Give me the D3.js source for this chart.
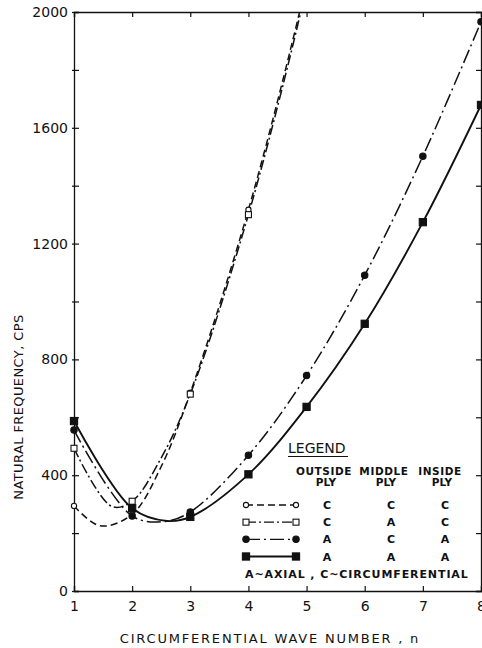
<!DOCTYPE html>
<html>
<head>
<meta charset="utf-8">
<script src="https://cdn.jsdelivr.net/npm/d3@7"></script>
<style>
  body { margin: 0; background: #fff; }
  text { font-family: "DejaVu Sans", sans-serif; fill: #111; }
</style>
</head>
<body>
<script>
'use strict';

// circumferential wave number n
const waveNumbers = [1, 2, 3, 4, 5, 6, 7, 8];

// marker values at integer n (cps)
const cccMarks = [[1, 294], [2, 265], [3, 685], [4, 1317]];
const cacMarks = [[1, 493], [2, 310], [3, 680], [4, 1300]];
const acaMarks = [[1, 556], [2, 259], [3, 273], [4, 469], [5, 744], [6, 1091], [7, 1502], [8, 1966]];
const aaaMarks = [[1, 587], [2, 286], [3, 256], [4, 403], [5, 636], [6, 923], [7, 1274], [8, 1679]];

// extra points (minima, exit at top)
const cccCurve = [[1, 294], [1.45, 225], [2, 265], [2.5, 430], [3, 685], [4, 1317], [4.88, 2000], [5, 2110]];
const cacCurve = [[1, 493], [1.65, 292], [2, 310], [2.5, 460], [3, 680], [4, 1300], [4.9, 2000], [5, 2100]];
const acaCurve = [[1, 556], [2, 259], [2.55, 240], [3, 273], [4, 469], [5, 744], [6, 1091], [7, 1502], [8, 1966]];
const aaaCurve = [[1, 587], [2, 286], [2.6, 242], [3, 256], [4, 403], [5, 636], [6, 923], [7, 1274], [8, 1679]];

const yTicks = [0, 200, 400, 600, 800, 1000, 1200, 1400, 1600, 1800, 2000];

const legendRows = [
  { outside: "C", middle: "C", inside: "C" },
  { outside: "C", middle: "A", inside: "C" },
  { outside: "A", middle: "C", inside: "A" },
  { outside: "A", middle: "A", inside: "A" }
];

(function() {

  let width = 482, height = 648;
  let mLeft = 74, mRight = 481, mTop = 12, mBottom = 591;

  let svg = d3.select("body").append("svg")
    .attr("width", width)
    .attr("height", height);

  let x = d3.scaleLinear().domain([1, 8]).range([mLeft, mRight]);
  let y = d3.scaleLinear().domain([0, 2000]).range([mBottom, mTop]);

  svg.append("defs").append("clipPath").attr("id", "plot")
    .append("rect").attr("x", mLeft).attr("y", mTop)
    .attr("width", mRight - mLeft).attr("height", mBottom - mTop);

  // axes
  let gLeft = svg.append("g").attr("transform", `translate(${mLeft},0)`)
    .call(d3.axisLeft(y).tickValues(yTicks).tickSize(-5).tickPadding(6)
      .tickFormat(d => d % 400 === 0 ? d : ""));
  let gRight = svg.append("g").attr("transform", `translate(${mRight},0)`)
    .call(d3.axisRight(y).tickValues(yTicks).tickSize(-5).tickFormat(""));
  let gBottom = svg.append("g").attr("transform", `translate(0,${mBottom})`)
    .call(d3.axisBottom(x).tickValues(waveNumbers).tickSize(-5).tickPadding(10)
      .tickFormat(d3.format("d")));
  let gTop = svg.append("g").attr("transform", `translate(0,${mTop})`)
    .call(d3.axisTop(x).tickValues(waveNumbers).tickSize(-5).tickFormat(""));

  [gLeft, gRight, gBottom, gTop].forEach(g => {
    g.select(".domain").attr("stroke", "#111").attr("stroke-width", 1.3);
    g.selectAll(".tick line").attr("stroke", "#111").attr("stroke-width", 1.2);
    g.selectAll(".tick text").attr("font-size", 14).attr("font-family", "DejaVu Sans").attr("fill", "#111");
  });
  gLeft.selectAll(".tick line").attr("x1", -2);

  // axis titles
  svg.append("text")
    .attr("transform", `translate(23,407) rotate(-90)`)
    .attr("text-anchor", "middle")
    .attr("font-size", 13)
    .attr("letter-spacing", 0.4)
    .text("NATURAL FREQUENCY, CPS");

  svg.append("text")
    .attr("x", 270).attr("y", 643)
    .attr("text-anchor", "middle")
    .attr("font-size", 13)
    .attr("letter-spacing", 1.8)
    .text("CIRCUMFERENTIAL WAVE NUMBER , n");

  // series
  let line = d3.line()
    .x(d => x(d[0]))
    .y(d => y(d[1]))
    .curve(d3.curveCatmullRom.alpha(0.5));

  let series = [
    { curve: cccCurve, marks: cccMarks, dash: "7,4", marker: "circle", fill: "#fff" },
    { curve: cacCurve, marks: cacMarks, dash: "10,3,2,3", marker: "square", fill: "#fff" },
    { curve: acaCurve, marks: acaMarks, dash: "14,4,2,4", marker: "circle", fill: "#111" },
    { curve: aaaCurve, marks: aaaMarks, dash: null, marker: "square", fill: "#111" }
  ];

  let plot = svg.append("g").attr("clip-path", "url(#plot)");

  function drawMarker(g, s, px, py) {
    if (s.marker === "circle") {
      g.append("circle").attr("cx", px).attr("cy", py)
        .attr("r", s.fill === "#fff" ? 2.6 : 3.2)
        .attr("fill", s.fill).attr("stroke", "#111").attr("stroke-width", 1.1);
    } else {
      let r = s.fill === "#fff" ? 3 : 3.6;
      g.append("rect").attr("x", px - r).attr("y", py - r)
        .attr("width", 2 * r).attr("height", 2 * r)
        .attr("fill", s.fill).attr("stroke", "#111").attr("stroke-width", 1.1);
    }
  }

  series.forEach(s => {
    plot.append("path")
      .datum(s.curve)
      .attr("d", line)
      .attr("fill", "none")
      .attr("stroke", "#111")
      .attr("stroke-width", s.dash ? 1.5 : 1.9)
      .attr("stroke-dasharray", s.dash);
  });
  series.forEach(s => {
    s.marks.forEach(d => drawMarker(svg, s, x(d[0]), y(d[1])));
  });

  // legend
  let lg = svg.append("g");
  lg.append("text").attr("x", 288).attr("y", 453).attr("font-size", 14)
    .text("LEGEND");
  lg.append("line").attr("x1", 288).attr("x2", 348).attr("y1", 456.5).attr("y2", 456.5)
    .attr("stroke", "#111").attr("stroke-width", 1.2);

  let cols = [
    { key: "outside", head: "OUTSIDE", hx: 324, cx: 327 },
    { key: "middle", head: "MIDDLE", hx: 384, cx: 391 },
    { key: "inside", head: "INSIDE", hx: 440, cx: 445 }
  ];
  cols.forEach(c => {
    let t = lg.append("text").attr("text-anchor", "middle")
      .attr("font-size", 10.5).attr("font-weight", "bold");
    t.append("tspan").attr("x", c.hx).attr("y", 474.5).attr("letter-spacing", 0.6).text(c.head);
    t.append("tspan").attr("x", c.hx + 2).attr("y", 485.5).text("PLY");
  });

  let rowY = d3.scalePoint().domain(d3.range(legendRows.length)).range([505, 556.5]);
  legendRows.forEach((r, i) => {
    let s = series[i];
    let yy = rowY(i);
    lg.append("line").attr("x1", 246).attr("x2", 296).attr("y1", yy).attr("y2", yy)
      .attr("stroke", "#111").attr("stroke-width", s.dash ? 1.4 : 1.9)
      .attr("stroke-dasharray", s.dash);
    drawMarker(lg, s, 246, yy);
    drawMarker(lg, s, 296, yy);
    cols.forEach(c => {
      lg.append("text").attr("x", c.cx).attr("y", yy + 4).attr("text-anchor", "middle")
        .attr("font-size", 11).attr("font-weight", "bold").text(r[c.key]);
    });
  });

  lg.append("text").attr("x", 245).attr("y", 578).attr("font-size", 11)
    .attr("font-weight", "bold").attr("letter-spacing", 0.9)
    .text("A~AXIAL , C~CIRCUMFERENTIAL");
})();
</script>
</body>
</html>
